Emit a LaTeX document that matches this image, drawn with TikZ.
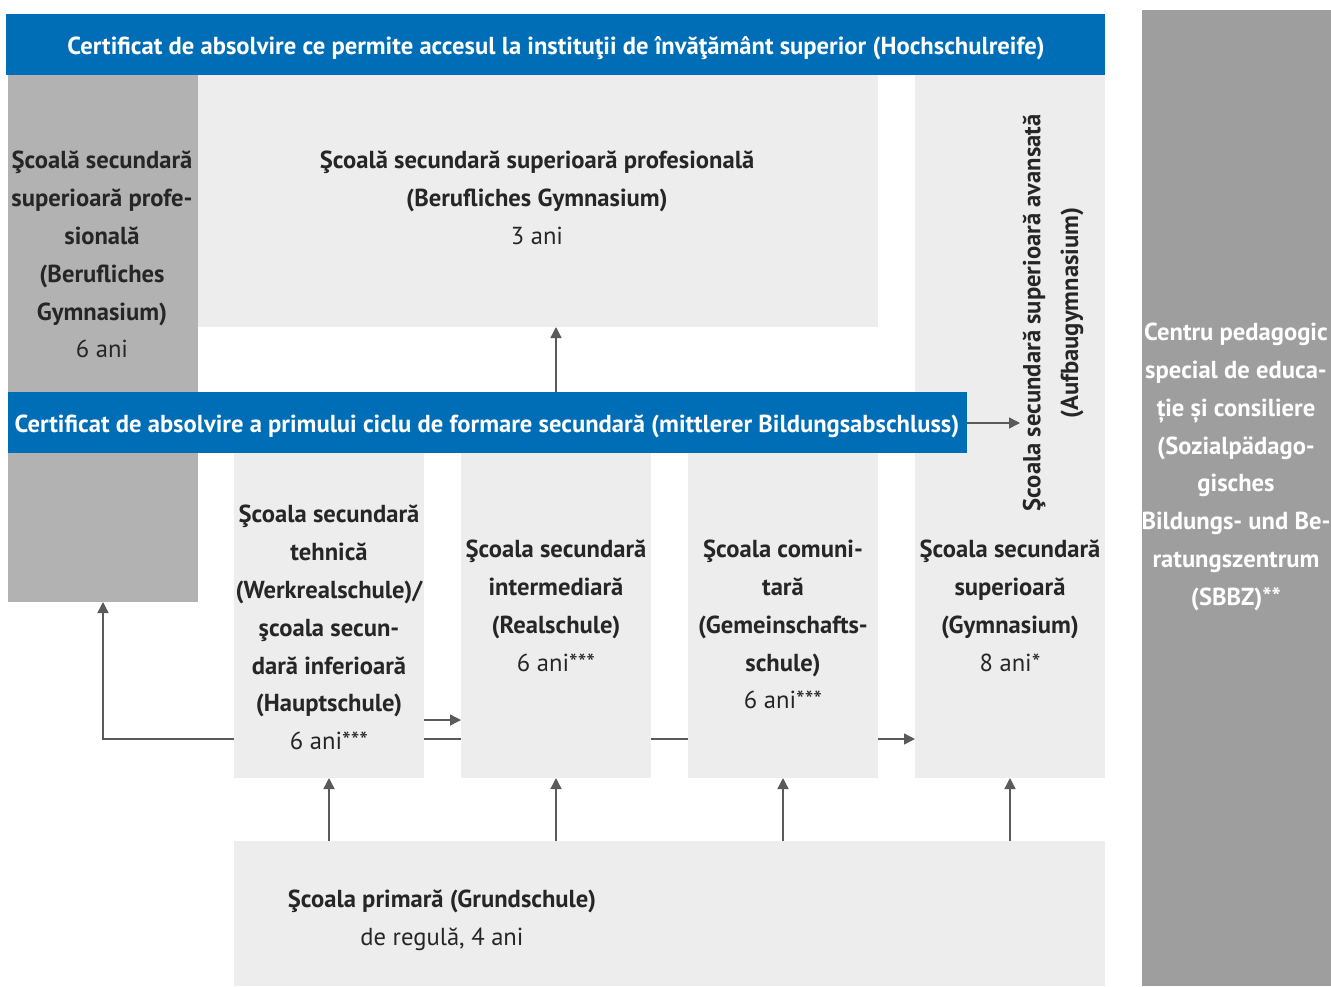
\documentclass[tikz,border=0pt]{standalone}
\usepackage{fontspec}
\setmainfont{PT Sans}
\usetikzlibrary{arrows.meta}
\definecolor{blu}{RGB}{0,110,183}
\definecolor{lgray}{RGB}{237,237,237}
\definecolor{mgray}{RGB}{178,178,178}
\definecolor{dgray}{RGB}{158,158,158}
\definecolor{txt}{RGB}{38,38,38}
\definecolor{arr}{RGB}{90,90,90}
\begin{document}
\begin{tikzpicture}[x=1pt,y=-1pt,
  box/.style={fill=#1,draw=none,inner sep=0pt,outer sep=0pt,anchor=north west},
  lbl/.style={text=txt,align=center,inner sep=0pt,font=\fontsize{24.6}{37.8}\selectfont},
  wlbl/.style={text=white,align=center,inner sep=0pt,font=\fontsize{24.6}{37.8}\selectfont\bfseries},
  ar/.style={draw=arr,line width=1.4pt,-{Triangle[length=11pt,width=11pt]}},
  ln/.style={draw=arr,line width=1.4pt}]
\useasboundingbox (0,0) rectangle (1331,986);
\coordinate (y739) at (0,739);
\coordinate (y720) at (0,720);
\coordinate (y423) at (0,423);
% boxes
\node[box=dgray,minimum width=189,minimum height=976] (sbbz) at (1142,10) {};
\node[box=mgray,minimum width=190,minimum height=527] (bgl) at (8,75) {};
\node[box=lgray,minimum width=680,minimum height=252] (bg) at (198,75) {};
\node[box=lgray,minimum width=190,minimum height=703] (gym) at (915,75) {};
\node[box=lgray,minimum width=871,minimum height=145] (grund) at (234,841) {};
\draw[ar] (gym.west |- y739) ++(-37,0) coordinate (gs) -- (gym.west |- y739);
\node[box=lgray,minimum width=190,minimum height=325] (haupt) at (234,453) {};
\draw[ln] (haupt.east |- y739) -- (gs);
\node[box=lgray,minimum width=190,minimum height=325] (real) at (461,453) {};
\node[box=lgray,minimum width=190,minimum height=325] (gem) at (688,453) {};
\node[box=blu,minimum width=1099,minimum height=61] (hsr) at (6,14) {};
\node[box=blu,minimum width=959,minimum height=61] (mba) at (8,392) {};
% connectors
\draw[ar] (haupt.west |- y739) -| (bgl.south);
\draw[ar] (haupt.east |- y720) -- (real.west |- y720);
\draw[ar] (mba.north -| real.north) -- (bg.south -| real.north);
\coordinate (aufin) at (1020,423);
\draw[ar] (mba.east |- y423) -- (aufin);
\draw[ar] (grund.north -| haupt.south) -- (haupt.south);
\draw[ar] (grund.north -| real.south) -- (real.south);
\draw[ar] (grund.north -| gem.south) -- (gem.south);
\draw[ar] (grund.north -| gym.south) -- (gym.south);
% texts
\node[wlbl] (t1) at (556,48) {Certificat de absolvire ce permite accesul la instituţii de învăţământ superior (Hochschulreife)};
\node[wlbl] (t2) at (487,426) {Certificat de absolvire a primului ciclu de formare secundară (mittlerer Bildungsabschluss)};
\node[lbl,anchor=north] (t3) at (102,151) {\bfseries Şcoală secundară\\\bfseries superioară profe-\\\bfseries sională\\\bfseries (Berufliches\\\bfseries Gymnasium)\\6 ani};
\node[lbl,anchor=north] (t4) at (537,151) {\bfseries Şcoală secundară superioară profesională\\\bfseries (Berufliches Gymnasium)\\3 ani};
\node[lbl,anchor=north] (t5) at (329,505) {\bfseries Şcoala secundară\\\bfseries tehnică\\\bfseries (Werkrealschule)/\\\bfseries şcoala secun-\\\bfseries dară inferioară\\\bfseries (Hauptschule)\\6 ani***};
\node[lbl,anchor=north] (t6) at (556,540) {\bfseries Şcoala secundară\\\bfseries intermediară\\\bfseries (Realschule)\\6 ani***};
\node[lbl,anchor=north] (t7) at (783,540) {\bfseries Şcoala comuni-\\\bfseries tară\\\bfseries (Gemeinschafts-\\\bfseries schule)\\6 ani***};
\node[lbl,anchor=north] (t8) at (1010,540) {\bfseries Şcoala secundară\\\bfseries superioară\\\bfseries (Gymnasium)\\8 ani*};
\node[lbl,rotate=90] (t9) at (1034,313) {\bfseries Şcoala secundară superioară avansată};
\node[lbl,rotate=90] (t10) at (1072,313) {\bfseries (Aufbaugymnasium)};
\node[lbl,anchor=north] (t11) at (442,890) {\bfseries Şcoala primară (Grundschule)\\de regulă, 4 ani};
\node[wlbl,anchor=north] (t12) at (1236,323) {Centru pedagogic\\special de educa-\\ție și consiliere\\(Sozialpädago-\\gisches\\Bildungs- und Be-\\ratungszentrum\\(SBBZ)**};
\end{tikzpicture}
\end{document}
